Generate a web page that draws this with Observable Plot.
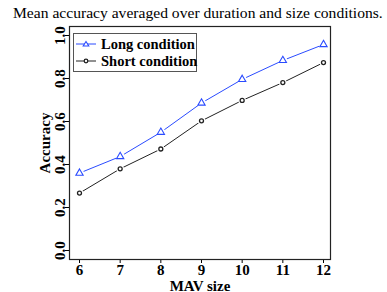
<!DOCTYPE html>
<html><head><meta charset="utf-8">
<script src="https://cdn.jsdelivr.net/npm/d3@7"></script>
<script src="https://cdn.jsdelivr.net/npm/@observablehq/plot@0.6"></script>
<style>
body{margin:0;background:#fff;font-family:"Liberation Serif","Times New Roman",serif;}
#wrap{position:relative;width:387px;height:292px;overflow:hidden;}
#title{height:24px;line-height:25px;font-size:16px;white-space:nowrap;color:#000;position:relative;}
#title span{position:absolute;left:13px;top:0;}
#legend{position:absolute;left:73px;top:33px;width:122px;height:37px;border:1px solid #555;background:#fff;font-weight:bold;font-size:14.5px;}
.row{position:absolute;left:0;height:18px;line-height:18px;}
.row span{position:absolute;left:27px;white-space:nowrap;}
.row svg{position:absolute;left:2px;top:0;}
</style></head>
<body>
<div id="wrap">
<div id="title"><span id="tt">Mean accuracy averaged over duration and size conditions.</span></div>
<div id="chart"></div>
<div id="legend"></div>
</div>
<script>
const mavSizes = [6, 7, 8, 9, 10, 11, 12];
const longAcc  = [0.36, 0.437, 0.55, 0.686, 0.796, 0.884, 0.958];
const shortAcc = [0.267, 0.38, 0.472, 0.603, 0.698, 0.781, 0.874];
const yTicks = [0, 0.2, 0.4, 0.6, 0.8, 1.0];
const seriesNames = ["Long condition", "Short condition"];
const colors = ["#2a4bff", "#222222"];

// fit title width to the reference's span (~372px)
const tt = document.getElementById("tt");
const w0 = tt.getBoundingClientRect().width;
if (w0 > 0) tt.style.fontSize = Math.min(17, 16 * 370 / w0) + "px";

const longData = mavSizes.map((x, i) => ({x, y: longAcc[i]}));
const shortData = mavSizes.map((x, i) => ({x, y: shortAcc[i]}));

const FONT = "'Liberation Serif', 'Times New Roman', serif";
const plot = Plot.plot({
  width: 387, height: 268,
  marginTop: 2, marginBottom: 33, marginLeft: 69, marginRight: 57,
  style: {fontFamily: FONT, fontSize: "15px", color: "#000", background: "#fff"},
  x: {domain: [6, 12], insetLeft: 10, insetRight: 7},
  y: {domain: [0, 1], insetTop: 9, insetBottom: 9},
  marks: [
    Plot.axisX({ticks: mavSizes, tickSize: 4, tickPadding: 1, tickFormat: d => d, fontWeight: "bold", fontSize: 15,
      label: "MAV size", labelAnchor: "center", labelArrow: "none", labelOffset: 31}),
    Plot.axisY({ticks: yTicks, tickSize: 4, tickFormat: () => "",
      label: "Accuracy", labelAnchor: "center", labelArrow: "none", labelOffset: 30}),
    Plot.text(yTicks, {y: d => d, text: d => d3.format(".1f")(d), frameAnchor: "left", dx: -9, rotate: -90,
      textAnchor: "middle", lineAnchor: "middle", fontWeight: "bold", fontSize: 15}),
    Plot.frame({stroke: "#222", strokeWidth: 1.2}),
    Plot.line(longData, {x: "x", y: "y", stroke: colors[0], strokeWidth: 1}),
    Plot.line(shortData, {x: "x", y: "y", stroke: colors[1], strokeWidth: 1}),
    Plot.dot(longData, {x: "x", y: "y", r: 4.5, fill: "white", stroke: "none"}),
    Plot.dot(shortData, {x: "x", y: "y", r: 3.8, fill: "white", stroke: "none"}),
    Plot.dot(longData, {x: "x", y: "y", symbol: "triangle", r: 2.7, stroke: colors[0], strokeWidth: 1.1, fill: "none"}),
    Plot.dot(shortData, {x: "x", y: "y", symbol: "circle", r: 2, stroke: colors[1], strokeWidth: 1.3, fill: "none"})
  ]
});
plot.querySelectorAll("g[aria-label='x-axis label'] text, g[aria-label='y-axis label'] text").forEach(t => {
  t.setAttribute("font-weight", "bold"); t.setAttribute("font-size", "15");
});
document.getElementById("chart").appendChild(plot);

const leg = document.getElementById("legend");
seriesNames.forEach((name, i) => {
  const row = document.createElement("div");
  row.className = "row";
  row.style.top = (1 + i * 17) + "px";
  const sym = i === 0
    ? `<polygon points="10,6.5 12.8,11 7.2,11" fill="white" stroke="${colors[0]}" stroke-width="1.1"/>`
    : `<circle cx="10" cy="9" r="1.8" fill="white" stroke="${colors[1]}" stroke-width="1.3"/>`;
  row.innerHTML = `<svg width="22" height="18"><line x1="0" y1="9" x2="20" y2="9" stroke="${colors[i]}" stroke-width="1"/>${sym}</svg><span>${name}</span>`;
  leg.appendChild(row);
});
</script>
</body></html>
